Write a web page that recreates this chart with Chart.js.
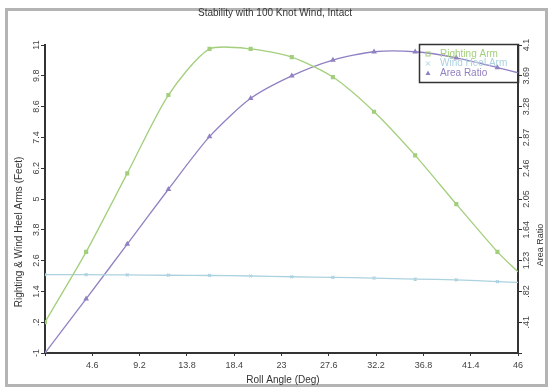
<!DOCTYPE html>
<html>
<head>
<meta charset="utf-8">
<script src="https://cdn.jsdelivr.net/npm/chart.js@4.4.0/dist/chart.umd.min.js"></script>
<style>
  body { margin: 0; background: #fff; }
  #wrap { width: 552px; height: 390px; position: relative; }
</style>
</head>
<body>
<div id="wrap"><canvas id="myChart" width="552" height="390"></canvas></div>
<script>
// roll angle (deg) of each reading
const angles = [0, 4, 8, 12, 16, 20, 24, 28, 32, 36, 40, 44, 46]
const rightingArm = [0.2, 2.94, 6.0, 9.05, 10.85, 10.85, 10.53, 9.75, 8.4, 6.7, 4.8, 2.94, 2.16]
const windHeelArm = [2.05, 2.05, 2.04, 2.03, 2.02, 2.0, 1.97, 1.95, 1.92, 1.88, 1.85, 1.78, 1.75]
const areaRatio = [0, 0.72, 1.45, 2.18, 2.88, 3.39, 3.69, 3.9, 4.01, 4.01, 3.93, 3.8, 3.73]

const xTicks = [0, 4.6, 9.2, 13.8, 18.4, 23, 27.6, 32.2, 36.8, 41.4, 46]
const leftTicks = [-1, 0.2, 1.4, 2.6, 3.8, 5, 6.2, 7.4, 8.6, 9.8, 11]
const rightTicks = [0, 0.41, 0.82, 1.23, 1.64, 2.05, 2.46, 2.87, 3.28, 3.69, 4.1]

const green = '#a3cf7c'
const cyan = '#acd2df'
const purple = '#9180c2'
const font = '"Liberation Sans", Arial, sans-serif'

// number label the way the original drew it (no leading zero)
function fmt(v) {
  let s = String(Number(v.toFixed(2)))
  if (s.startsWith('0.')) s = s.slice(1)
  if (s.startsWith('-0.')) s = '-' + s.slice(2)
  return s
}

function pts(ys) {
  return angles.map((a, i) => ({ x: a, y: ys[i] }))
}

function markerRadius(ctx) {
  return angles[ctx.dataIndex] % 4 === 0 ? 2 : 0
}

const extras = {
  id: 'extras',
  beforeDraw(chart) {
    const c = chart.ctx
    c.save()
    c.fillStyle = '#fff'
    c.fillRect(0, 0, chart.width, chart.height)
    // outer frame
    c.strokeStyle = '#b4b4b4'
    c.lineWidth = 3
    c.strokeRect(6.5, 9.5, 540, 376)
    c.restore()
  },
  afterDraw(chart) {
    const c = chart.ctx
    const a = chart.chartArea
    const yL = chart.scales.yL
    const yR = chart.scales.yR
    c.save()
    c.fillStyle = '#333'
    c.font = '10px ' + font
    c.textAlign = 'center'
    c.textBaseline = 'middle'
    c.fillText('Stability with 100 Knot Wind, Intact', 275, 13)
    c.fillText('Roll Angle (Deg)', 283, 380)

    // rotated tick labels
    c.font = '9px ' + font
    c.fillStyle = '#444'
    leftTicks.forEach(v => {
      c.save()
      c.translate(37, yL.getPixelForValue(v))
      c.rotate(-Math.PI / 2)
      c.fillText(fmt(v), 0, 0)
      c.restore()
    })
    rightTicks.forEach(v => {
      if (v === 0) return
      c.save()
      c.translate(527, yR.getPixelForValue(v))
      c.rotate(-Math.PI / 2)
      c.fillText(fmt(v), 0, 0)
      c.restore()
    })

    // axis titles
    c.fillStyle = '#333'
    c.font = '10px ' + font
    c.save()
    c.translate(19, 232)
    c.rotate(-Math.PI / 2)
    c.fillText('Righting & Wind Heel Arms (Feet)', 0, 0)
    c.restore()
    c.font = '9px ' + font
    c.save()
    c.translate(541, 245)
    c.rotate(-Math.PI / 2)
    c.fillText('Area Ratio', 0, 0)
    c.restore()

    // legend box
    const bx = 419, by = 44, bw = a.right - 419, bh = 38
    c.strokeStyle = '#333'
    c.lineWidth = 1.5
    c.strokeRect(bx + 0.5, by + 0.5, bw, bh)
    c.textAlign = 'left'
    c.font = '10px ' + font
    chart.data.datasets.forEach((ds, i) => {
      const ly = by + 10 + i * 9.5
      c.fillStyle = ds.borderColor
      c.strokeStyle = ds.borderColor
      c.lineWidth = 1
      if (ds.pointStyle === 'rect') {
        c.strokeRect(426, ly - 2, 4, 4)
      } else if (ds.pointStyle === 'triangle') {
        c.beginPath()
        c.moveTo(428, ly - 2.5); c.lineTo(430.5, ly + 2); c.lineTo(425.5, ly + 2); c.closePath()
        c.fill()
      } else {
        c.beginPath()
        c.moveTo(426, ly - 2); c.lineTo(430, ly + 2); c.moveTo(430, ly - 2); c.lineTo(426, ly + 2)
        c.stroke()
      }
      c.fillText(ds.label, 440, ly)
    })
    c.restore()
  }
}

const ctx = document.getElementById('myChart')

new Chart(ctx, {
  type: 'line',
  data: {
    datasets: [{
      label: 'Righting Arm',
      data: pts(rightingArm),
      yAxisID: 'yL',
      borderColor: green,
      backgroundColor: green,
      pointStyle: 'rect',
      pointRadius: markerRadius,
      borderWidth: 1.3,
      tension: 0.25
    }, {
      label: 'Wind Heel Arm',
      data: pts(windHeelArm),
      yAxisID: 'yL',
      borderColor: cyan,
      backgroundColor: cyan,
      pointStyle: 'crossRot',
      pointRadius: markerRadius,
      borderWidth: 1.3,
      tension: 0.25
    }, {
      label: 'Area Ratio',
      data: pts(areaRatio),
      yAxisID: 'yR',
      borderColor: purple,
      backgroundColor: purple,
      pointStyle: 'triangle',
      pointRadius: markerRadius,
      borderWidth: 1.3,
      tension: 0.25
    }]
  },
  options: {
    responsive: false,
    animation: false,
    layout: { padding: { top: 45, left: 0, right: 0, bottom: 0 } },
    plugins: { legend: { display: false }, tooltip: { enabled: false } },
    scales: {
      x: {
        type: 'linear',
        min: 0,
        max: 46,
        afterBuildTicks: s => { s.ticks = xTicks.map(v => ({ value: v })) },
        afterFit: s => { s.height = 37 },
        grid: { drawOnChartArea: false, tickLength: 3, color: '#333' },
        border: { color: '#333', width: 2 },
        ticks: {
          color: '#444',
          font: { size: 9, family: font },
          padding: 4,
          maxRotation: 0,
          autoSkip: false,
          callback: v => v === 0 ? '' : fmt(v)
        }
      },
      yL: {
        position: 'left',
        min: -1,
        max: 11,
        afterBuildTicks: s => { s.ticks = leftTicks.map(v => ({ value: v })) },
        afterFit: s => { s.width = 45 },
        grid: { drawOnChartArea: false, tickLength: 4, color: '#333' },
        border: { color: '#333', width: 2 },
        ticks: { display: false }
      },
      yR: {
        position: 'right',
        min: 0,
        max: 4.1,
        afterBuildTicks: s => { s.ticks = rightTicks.map(v => ({ value: v })) },
        afterFit: s => { s.width = 34 },
        grid: { drawOnChartArea: false, tickLength: 4, color: '#333' },
        border: { color: '#333', width: 2 },
        ticks: { display: false }
      }
    }
  },
  plugins: [extras]
})
</script>
</body>
</html>
